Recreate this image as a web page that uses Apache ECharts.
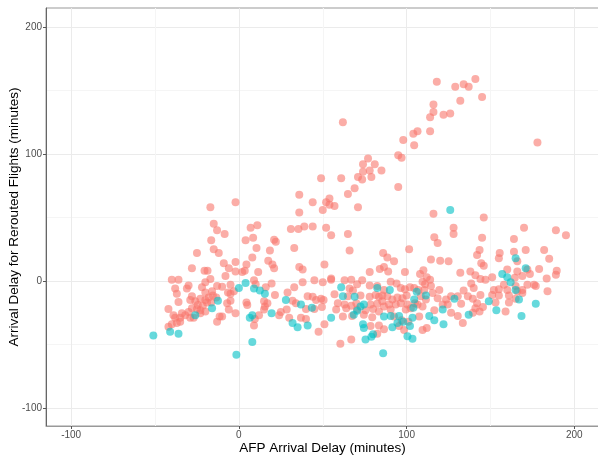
<!DOCTYPE html>
<html>
<head>
<meta charset="utf-8">
<script src="https://cdn.jsdelivr.net/npm/echarts@6/dist/echarts.min.js"></script>
<style>
  html, body { margin: 0; padding: 0; background: #fff; }
  #chart { width: 598px; height: 457px; }
</style>
</head>
<body>
<div id="chart"></div>
<script>
// [AFP arrival delay, arrival delay of rerouted flight] in minutes
const redPoints = [
  [118,157],[116,139],[116,133],[114,129],[122,131],[126,132],[62,125],[106.5,118],[104,116],[114,118],
  [98,111],[104.5,107],[95,99],[97,97],[77,96.5],[74,92],[81,92],[85,87],[74,86],[78,87],[79,82],[71,82],
  [73.5,80],[49,81],[61,81],[69,73],[95,74],[65,68.5],[36,68],[54,65],[141,159],[129,153],[134,155],
  [137,153],[145,145],[132,142],[178,109],[116,53],[146,50],[44,62],[52,62],[54,60],[57,59],[50,56],
  [71,58],[36,54],[39,43],[44,43],[52,42],[128,42],[128,37],[170,42],[189,40],[195,36],[-17,58],[-2,62],
  [-15,45],[-13,40],[7,42],[11,44],[31,41],[35.5,41],
  [-8.5,37],[-16.5,32],[-15,25],[-12,22],[-25,22],[-28,10],[-9,14],[-2,15],[-20.5,8],[-18.7,8],[-6,10],
  [-8,4],[-2,7.5],[-40,1],[-36,1],[-17,1.5],[-20,-1],[-30,-3.5],[-38,-6],[-22,-5],[-13,-4],[-10,-4.5],
  [-5,-3],[-31,-6],[-37,-10],[-28,-12],[-20,-9],[-16,-8],[-6.5,-9],[-3,-8],[-36,-16.5],[-29,-15],
  [-26,-16],[-23,-14],[-20,-15],[-18,-13],[-15.5,-11.5],[-13.5,-13],[-24.5,-19],[-21.5,-19.5],[-19,-17],
  [-16.5,-17],[-28,-21.5],[-25,-22],[-23,-23],[-20,-24],[-30,-24.5],[-32,-27],[-29,-29],[-42,-22],
  [-39,-27],[-38,-29],[-35,-29],[-34,-25.5],[-42,-36],[-40,-34],[-37,-33],[-35,-32],[-27,-29],
  [-23,-25.5],[-11.5,-28],[-13,-32],[-10,-28],[-7,-17.5],[-5,-15.5],[-6,-22.5],[-2,-25.5],[-5,-10],
  [4,32],[8.5,34],[21,32.5],[22,31],[10.5,26],[33,26],[8,18.5],[18.5,24],[17.5,16],[20,13],[21,10],
  [4.5,13],[3.5,8],[2,7],[11.5,7],[36,11],[38,9],[51,13],[9,0.5],[10,-2.5],[19.5,-2],[16,-5],[38,-1],
  [45,0.5],[50,-1],[33,-5],[29,-9],[21.5,-11],[41,-12],[44,-12.5],[49,-14],[46,-15],[50.5,-15],
  [4.5,-17],[5,-19],[15,-16],[15.5,-20],[17,-17.5],[32,-15.5],[34,-17.5],[28.5,-22.5],[25,-24.5],
  [24,-27],[30,-29],[40,-22],[45,-22],[49.5,-20.5],[37,-29],[40,-30],[12,-27],[9.5,-30],[9,-35],
  [47.5,-40],[51,-34],[15,-22.5],
  [55,36],[65,37],[66,24],[86,22],[88.5,18.5],[92.5,15.5],[101.5,25],[78,7],[84,9.5],[86.5,11],[89,7.5],
  [99,7],[63,0.5],[67,1],[73.5,0.5],[70.5,-2.5],[55,1],[55,2],[90.5,-0.5],[94,-2],[96.5,-5.5],[78,-3.5],
  [82.5,-4],[86.5,-7],[66,-6],[68,-7.5],[57,-10.5],[65,-12],[72.5,-11.5],[78,-12.5],[81.5,-11],
  [83.5,-12.5],[85.5,-11.5],[88.5,-12],[91.5,-14.5],[94.5,-13],[97.5,-13.5],[100,-11.5],[59,-17.5],
  [63,-18.5],[67,-19.5],[70,-17.5],[78.5,-18.5],[82.5,-18],[85.5,-16],[86.5,-20],[89.5,-18.5],
  [93.5,-18.5],[96.5,-17.5],[100.5,-18.5],[58,-22.5],[64,-21.5],[70.5,-22.5],[75.5,-23],[80,-22],
  [83.5,-24],[90.5,-22.5],[99.5,-22.5],[62,-28],[67.5,-27.5],[74.5,-26.5],[79.5,-28.5],[92.5,-28],
  [97,-31],[101,-32],[78.5,-35.5],[83.5,-35],[86.5,-38],[95.5,-35.5],[98.5,-38.5],[82.5,-41.5],
  [67,-46],[60.5,-49.5],[102,-5],[99,-6.5],
  [118.5,30],[116.5,34.5],[145,34],[143.5,24.5],[142,20.5],[114.5,17],[120,16],[125,15.5],[144.5,14],
  [146,12],[110,8.5],[108,5.5],[132,6.5],[138,7.5],[141,4.5],[144,1.5],[112,3],[114,1],[109.5,-0.5],
  [111,-2.5],[114.5,-4],[138.5,-2],[140,-5.5],[147,1],[104.5,-5.5],[107,-7],[110.5,-7],[119.5,-7],
  [115.5,-9.5],[134,-7.5],[126.5,-12],[130.5,-12],[136.5,-12],[144,-11],[108.5,-12],[111.5,-14.5],
  [118.5,-13.5],[123.5,-14.5],[139.5,-14],[106.5,-18.5],[109.5,-20],[121.5,-18.5],[124.5,-18.5],
  [132.5,-18],[142,-17.5],[107.5,-28],[116.5,-23],[126.5,-25],[141,-21.5],[145.5,-20.5],[130.5,-27.5],
  [139.5,-25],[143.5,-24],[109.5,-38.5],[112,-37],[133.5,-33],[105,-17.5],[102.5,-21.5],
  [164,33],[155.5,22],[155,18],[164,23],[171,24.5],[182,24.5],[185,17.5],[166,15.5],[179,9.5],[189.5,8],
  [189,5],[160,9],[166,7.5],[172,9],[173.5,5.5],[151,3],[169,4],[164.5,2.5],[183.5,2],[172,-3],[176,-3],
  [177,-4],[158,-3],[155,-6.5],[152,-7],[160,-7],[165,-4],[169,-7],[184,-8],[151,-11],[155,-11.5],
  [161,-11.5],[166,-8],[169,-9.5],[153,-17],[161,-17],[165,-14],[159,-24]
]

const tealPoints = [
  [126,56],[-51,-43],[-41,-40],[-36,-41.5],[-26,-27],[-16,-21.5],[-12.5,-15.5],[0,-5.5],[-1.5,-58],
  [4,-1.5],[9,-6],[12.5,-7.5],[15.5,-10],[28,-15],[37,-18.5],[43.5,-21],[19.5,-25.5],[6.5,-29],[8,-27],
  [32,-33],[35,-36.5],[41,-35],[8,-48],[55,-29],[61,-5],[62,-12],[69,-12.5],[82.5,-5.5],[90,-7],
  [72.5,-20],[74.5,-18.5],[70.5,-23.5],[68.5,-26.5],[74,-34],[74.5,-37],[86.5,-28],[90.5,-27.5],
  [95.5,-27.5],[91.5,-36.5],[94.5,-33],[98,-32],[80,-42],[75.5,-46],[79,-44],[86,-57],[100.5,-43.5],
  [102,-35.5],[106,-8.5],[104.5,-14.5],[111.5,-11.5],[128.5,-14],[149,-16],[121.5,-22.5],[104,-21],
  [103.5,-29],[113.5,-27.5],[116.5,-31],[122,-34],[137,-26.5],[103.5,-45.5],[165,18],[171,10],[157,5.5],
  [160,3],[162,-1],[165,-7],[167,-14.5],[153.5,-23],[177,-18],[168.5,-27.5]
]

const xTicks = [-100, 0, 100, 200]
const yTicks = [-100, 0, 100, 200]
const xMinorTicks = [-50, 50, 150]
const yMinorTicks = [-50, 50, 150]

let dom = echarts.init(document.getElementById('chart'))
let font = "'Liberation Sans', Arial, sans-serif"

// axis with labels, ticks and major grid lines
let majorAxis = function (ticks, pos, lineColor) {
  return {
    type: 'value',
    position: pos,
    axisLine: { onZero: false, lineStyle: { color: lineColor } },
    axisTick: { show: true, length: 3, customValues: ticks, lineStyle: { color: '#555' } },
    axisLabel: { customValues: ticks, color: '#4d4d4d', fontSize: 10, margin: 4, fontFamily: font },
    splitLine: { lineStyle: { color: '#ebebeb', width: 1 } },
    nameLocation: 'middle',
    nameMoveOverlap: false,
    nameTextStyle: { color: '#000', fontSize: 13.5, fontFamily: font }
  }
}
// invisible twin axis that only carries the minor grid lines
let minorAxis = function (ticks, pos) {
  return {
    type: 'value',
    position: pos,
    axisLine: { show: false, onZero: false },
    axisTick: { show: false, customValues: ticks },
    axisLabel: { show: false, customValues: ticks },
    splitLine: { lineStyle: { color: '#f5f5f5', width: 1 } }
  }
}

let xMin = -115
let xMax = 214.7
let yMin = -114.2
let yMax = 215

let option = {
  animation: false,
  grid: {
    left: 46,
    top: 8,
    right: -1,
    bottom: 31,
    show: true,
    borderColor: '#999',
    borderWidth: 1,
    outerBoundsMode: 'none'
  },
  xAxis: [
    Object.assign(majorAxis(xTicks, 'bottom', '#999'), {
      min: xMin, max: xMax, name: 'AFP Arrival Delay (minutes)', nameGap: 15
    }),
    Object.assign(minorAxis(xMinorTicks, 'bottom'), { min: xMin, max: xMax })
  ],
  yAxis: [
    Object.assign(majorAxis(yTicks, 'left', '#666'), {
      min: yMin, max: yMax, name: 'Arrival Delay for Rerouted Flights (minutes)', nameGap: 25, nameRotate: 90
    }),
    Object.assign(minorAxis(yMinorTicks, 'left'), { min: yMin, max: yMax })
  ],
  series: [
    {
      type: 'scatter',
      symbolSize: 8,
      itemStyle: { color: '#F8766D', opacity: 0.6 },
      data: redPoints
    },
    {
      type: 'scatter',
      symbolSize: 8,
      itemStyle: { color: '#00BFC4', opacity: 0.6 },
      data: tealPoints
    }
  ]
}

dom.setOption(option)
</script>
</body>
</html>
